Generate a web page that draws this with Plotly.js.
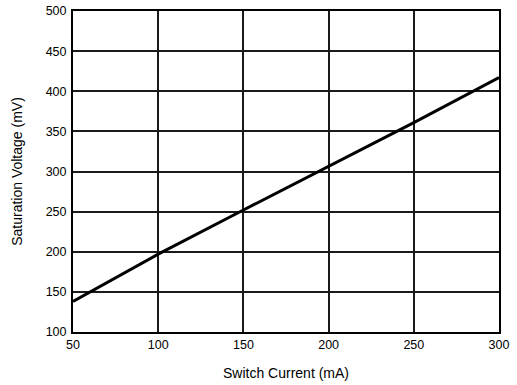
<!DOCTYPE html>
<html>
<head>
<meta charset="utf-8">
<script src="https://cdn.plot.ly/plotly-3.0.1.min.js"></script>
<style>html,body{margin:0;padding:0;background:#fff;}#chart{width:517px;height:385px;}</style>
</head>
<body>
<div id="chart"></div>
<script>
const switchCurrent = [50, 100, 150, 200, 250, 300];
const saturationVoltage = [138, 197, 252, 306, 361, 417];
const xTicks = [50, 100, 150, 200, 250, 300];
const yTicks = [100, 150, 200, 250, 300, 350, 400, 450, 500];

const trace = {
  x: switchCurrent, y: saturationVoltage, mode: 'lines', type: 'scatter',
  line: {color: '#000', width: 3}, hoverinfo: 'skip'
};
const font = {family: 'Liberation Sans, Arial, sans-serif', color: '#000', size: 12};
const layout = {
  width: 517, height: 385,
  margin: {l: 73, r: 18, t: 11, b: 53},
  paper_bgcolor: '#fff', plot_bgcolor: '#fff',
  showlegend: false, font: font,
  xaxis: {
    range: [50, 300], tickvals: xTicks, ticktext: xTicks.map(String),
    showgrid: true, gridcolor: '#1a1a1a', gridwidth: 2,
    showline: true, linecolor: '#000', linewidth: 2, mirror: true,
    zeroline: false, ticks: '', ticklen: 0,
    tickfont: {family: font.family, size: 12.5, color: '#000'},
    title: {text: 'Switch Current (mA)', font: {family: font.family, size: 14, color: '#000'}, standoff: 17}
  },
  yaxis: {
    range: [100, 500], tickvals: yTicks, ticktext: yTicks.map(String),
    showgrid: true, gridcolor: '#1a1a1a', gridwidth: 2,
    showline: true, linecolor: '#000', linewidth: 2, mirror: true,
    zeroline: false, ticks: '', ticklen: 0,
    tickfont: {family: font.family, size: 12.5, color: '#000'},
    ticklabelstandoff: 2,
    title: {text: 'Saturation Voltage (mV)', font: {family: font.family, size: 14, color: '#000'}, standoff: 20}
  }
};
Plotly.newPlot('chart', [trace], layout, {staticPlot: true, displayModeBar: false});
</script>
</body>
</html>
